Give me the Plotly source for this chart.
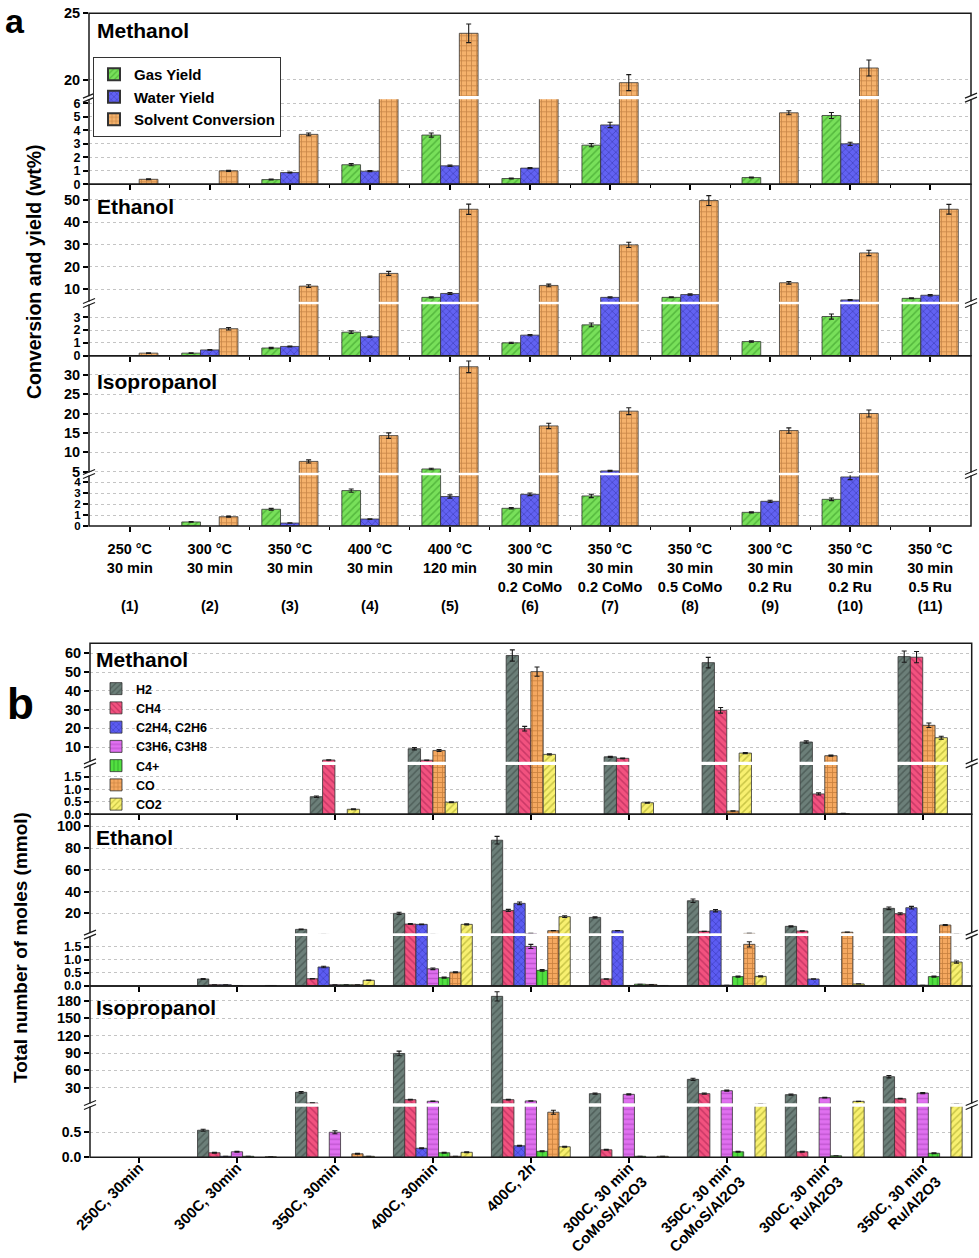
import plotly.graph_objects as go

W, H = 979, 1258
FONT = "Liberation Sans"

# ---------------- Panel a: categories ----------------
a_labels = ["250 °C<br>30 min<br> <br>(1)", "300 °C<br>30 min<br> <br>(2)",
            "350 °C<br>30 min<br> <br>(3)", "400 °C<br>30 min<br> <br>(4)",
            "400 °C<br>120 min<br> <br>(5)", "300 °C<br>30 min<br>0.2 CoMo<br>(6)",
            "350 °C<br>30 min<br>0.2 CoMo<br>(7)", "350 °C<br>30 min<br>0.5 CoMo<br>(8)",
            "300 °C<br>30 min<br>0.2 Ru<br>(9)", "350 °C<br>30 min<br>0.2 Ru<br>(10)",
            "350 °C<br>30 min<br>0.5 Ru<br>(11)"]
a_series = ["Gas Yield", "Water Yield", "Solvent Conversion"]

# Methanol (wt%)
a_meoh_gas = [None, None, 0.35, 1.45, 3.65, 0.43, 2.9, None, 0.5, 5.1, None]
a_meoh_water = [None, None, 0.87, 0.97, 1.37, 1.2, 4.4, None, None, 3.0, None]
a_meoh_solv = [0.37, 1.0, 3.7, 12.0, 23.5, 10.0, 19.8, None, 5.3, 20.9, None]
a_meoh_gas_err = [0, 0, 0.03, 0.08, 0.15, 0.03, 0.12, 0, 0.03, 0.22, 0]
a_meoh_water_err = [0, 0, 0.03, 0.04, 0.05, 0.04, 0.2, 0, 0, 0.12, 0]
a_meoh_solv_err = [0.03, 0.04, 0.1, 0, 0.7, 0, 0.6, 0, 0.15, 0.6, 0]

# Ethanol (wt%)
a_etoh_gas = [None, 0.2, 0.6, 1.83, 6.25, 1.0, 2.4, 6.25, 1.1, 3.05, 5.8]
a_etoh_water = [None, 0.45, 0.72, 1.47, 8.0, 1.6, 6.25, 7.5, None, 5.1, 7.2]
a_etoh_solv = [0.2, 2.1, 11.3, 17.0, 45.8, 11.6, 29.8, 49.7, 12.8, 26.2, 45.8]
a_etoh_gas_err = [0, 0.02, 0.05, 0.1, 0.3, 0.05, 0.15, 0.2, 0.05, 0.2, 0.2]
a_etoh_water_err = [0, 0.03, 0.03, 0.05, 0.4, 0.05, 0.3, 0.3, 0, 0.2, 0.3]
a_etoh_solv_err = [0.02, 0.1, 0.6, 0.9, 2.3, 0.6, 1.2, 2.2, 0.6, 1.2, 2.2]

# Isopropanol (wt%)
a_ipa_gas = [None, 0.37, 1.53, 3.24, 5.7, 1.62, 2.75, None, 1.25, 2.44, None]
a_ipa_water = [None, None, 0.27, 0.64, 2.7, 2.9, 5.2, None, 2.26, 4.49, None]
a_ipa_solv = [None, 0.85, 7.65, 14.3, 32.05, 16.8, 20.6, None, 15.6, 20.0, None]
a_ipa_gas_err = [0, 0.03, 0.08, 0.15, 0.2, 0.06, 0.15, 0, 0.05, 0.12, 0]
a_ipa_water_err = [0, 0, 0.02, 0.03, 0.15, 0.12, 0.15, 0, 0.1, 0.25, 0]
a_ipa_solv_err = [0, 0.05, 0.4, 0.7, 1.5, 0.7, 0.9, 0, 0.7, 0.9, 0]

# ---------------- Panel b: categories ----------------
b_labels = ["250C, 30min", "300C, 30min", "350C, 30min", "400C, 30min", "400C, 2h",
            "300C, 30 min<br>CoMoS/Al2O3", "350C, 30 min<br>CoMoS/Al2O3",
            "300C, 30 min<br>Ru/Al2O3", "350C, 30 min<br>Ru/Al2O3"]
b_series = ["H2", "CH4", "C2H4, C2H6", "C3H6, C3H8", "C4+", "CO", "CO2"]
b_meoh_series = ["H2", "CH4", "CO", "CO2"]

# Methanol (mmol)
b_meoh_h2 = [None, None, 0.70, 9.1, 58.8, 4.8, 55.0, 12.7, 58.2]
b_meoh_ch4 = [None, None, 3.1, 3.0, 19.8, 4.0, 29.6, 0.81, 57.9]
b_meoh_co = [None, None, None, 8.2, 50.2, None, 0.13, 5.4, 21.6]
b_meoh_co2 = [None, None, 0.2, 0.48, 6.1, 0.46, 6.8, 0.03, 15.0]
b_meoh_h2_err = [0, 0, 0.03, 0.6, 3.0, 0.3, 2.8, 0.6, 3.0]
b_meoh_ch4_err = [0, 0, 0.1, 0.1, 1.2, 0.2, 1.5, 0.04, 3.0]
b_meoh_co_err = [0, 0, 0, 0.5, 2.5, 0, 0.01, 0.3, 1.2]
b_meoh_co2_err = [0, 0, 0.02, 0.02, 0.3, 0.02, 0.3, 0.01, 0.8]

# Ethanol (mmol)
b_etoh_h2 = [None, 0.27, 5.3, 20.0, 87.2, 16.3, 31.6, 8.1, 24.6]
b_etoh_ch4 = [None, 0.05, 0.28, 10.2, 22.7, 0.27, 3.5, 3.8, 19.7]
b_etoh_c2 = [None, 0.05, 0.73, 9.9, 29.2, 4.1, 22.4, 0.27, 25.2]
b_etoh_c3 = [None, 0.02, 0.05, 0.66, 1.52, 0.02, 0.03, 0.02, 0.03]
b_etoh_c4 = [None, None, 0.05, 0.32, 0.6, 0.07, 0.36, 0.01, 0.36]
b_etoh_co = [None, None, 0.05, 0.53, 4.1, 0.06, 1.6, 2.7, 9.3]
b_etoh_co2 = [None, 0.02, 0.22, 9.9, 17.0, 0.02, 0.37, 0.08, 0.92]
b_etoh_h2_err = [0, 0.02, 0.4, 1.0, 3.5, 0.6, 1.6, 0.5, 1.2]
b_etoh_ch4_err = [0, 0, 0.01, 0.4, 1.0, 0.01, 0.1, 0.2, 0.9]
b_etoh_c2_err = [0, 0, 0.03, 0.4, 1.2, 0.1, 1.0, 0.01, 1.2]
b_etoh_c3_err = [0, 0, 0, 0.03, 0.08, 0, 0, 0, 0]
b_etoh_c4_err = [0, 0, 0, 0.02, 0.03, 0, 0.02, 0, 0.02]
b_etoh_co_err = [0, 0, 0, 0.02, 0.1, 0, 0.1, 0.1, 0.4]
b_etoh_co2_err = [0, 0, 0.01, 0.5, 0.8, 0, 0.02, 0, 0.04]

# Isopropanol (mmol)
b_ipa_h2 = [None, 0.54, 22.0, 89.2, 188.0, 19.7, 44.4, 18.0, 49.0]
b_ipa_ch4 = [None, 0.09, 3.5, 9.3, 9.3, 0.15, 19.7, 0.11, 11.0]
b_ipa_c2 = [None, 0.02, None, 0.18, 0.23, None, None, None, None]
b_ipa_c3 = [None, 0.11, 0.5, 6.5, 7.1, 18.5, 24.8, 12.8, 20.8]
b_ipa_c4 = [None, 0.02, None, 0.09, 0.12, 0.02, 0.11, 0.03, 0.08]
b_ipa_co = [None, None, 0.07, 0.02, 0.9, None, None, None, None]
b_ipa_co2 = [None, 0.01, 0.02, 0.1, 0.21, 0.02, 2.0, 6.4, 2.0]
b_ipa_h2_err = [0, 0.02, 1.5, 4.0, 8.0, 1.0, 2.0, 1.0, 2.0]
b_ipa_ch4_err = [0, 0.01, 0.3, 0.5, 0.5, 0.01, 1.0, 0.01, 0.6]
b_ipa_c2_err = [0, 0, 0, 0.01, 0.01, 0, 0, 0, 0]
b_ipa_c3_err = [0, 0.01, 0.03, 0.4, 0.4, 1.0, 1.0, 0.6, 1.0]
b_ipa_c4_err = [0, 0, 0, 0.01, 0.01, 0, 0.01, 0, 0.01]
b_ipa_co_err = [0, 0, 0.01, 0, 0.04, 0, 0, 0, 0]
b_ipa_co2_err = [0, 0, 0, 0.01, 0.01, 0, 0, 0, 0]

# ---------------- styles ----------------
STYLE = {
    "Gas Yield": ("#78e05a", "#2f8f20", "/"),
    "Water Yield": ("#6262f2", "#2a2a9a", "x"),
    "Solvent Conversion": ("#f5b26c", "#9a5a22", "+"),
    "H2": ("#6c7f79", "#33403c", "/"),
    "CH4": ("#f2527f", "#a01e4e", "\\"),
    "C2H4, C2H6": ("#5c5cf2", "#2a2aa0", "x"),
    "C3H6, C3H8": ("#e070f0", "#a03cb0", "-"),
    "C4+": ("#52e040", "#1f8f1f", "|"),
    "CO": ("#f5a860", "#9a5a1e", "+"),
    "CO2": ("#f8f070", "#9a9a1e", "/"),
}


def py(p):
    return 1 - p / H


def px(p):
    return p / W


def ax_ref(letter, i):
    return letter if i == 1 else f"{letter}{i}"


def ax_key(letter, i):
    return f"{letter}axis" if i == 1 else f"{letter}axis{i}"


# panel geometry: (x left px, x right px, upper top, upper bottom, lower top, lower bottom,
#                  upper range, lower range, upper ticks, lower ticks, lower fmt, lower font size)
PANELS = [
    (89, 971, 13.3, 96.0, 99.3, 184.3, [18.8, 25.0], [0, 6.3], [20, 25], [0, 1, 2, 3, 4, 5, 6], "", 12.5),
    (89, 971, 184.3, 301.7, 304.3, 355.7, [4.3, 57.0], [0, 4.0], [10, 20, 30, 40, 50], [0, 1, 2, 3], "", 12.5),
    (89, 971, 355.7, 472.7, 475.3, 526.0, [4.74, 34.9], [0, 4.64], [5, 10, 15, 20, 25, 30], [0, 1, 2, 3, 4], "", 11.5),
    (90, 971.7, 643.3, 761.7, 765.0, 814.3, [2.2, 65.3], [0, 1.96], [10, 20, 30, 40, 50, 60], [0, 0.5, 1.0, 1.5], ".1f", 12.5),
    (90, 971.7, 814.3, 933.3, 936.0, 986.0, [1.7, 111], [0, 1.92], [20, 40, 60, 80, 100], [0, 0.5, 1.0, 1.5], ".1f", 12.5),
    (90, 971.7, 986.0, 1103.3, 1106.7, 1157.3, [3.0, 205.9], [0, 1.01], [30, 60, 90, 120, 150, 180], [0, 0.5], ".1f", 14),
]

fig = go.Figure()


def add_panel(k, names, values, errors, ncat, width, legend_id, show_legend):
    nser = len(names)
    for i, (nm, v, e) in enumerate(zip(names, values, errors)):
        off = -nser * width / 2 + i * width
        fill, fg, shp = STYLE[nm]
        for seg, yi in ((0, 2 * k + 1), (1, 2 * k + 2)):
            fig.add_trace(go.Bar(
                x=list(range(ncat)), y=v, width=width, offset=off,
                xaxis=ax_ref("x", k + 1), yaxis=ax_ref("y", yi),
                name=nm, legend=legend_id,
                showlegend=bool(show_legend and seg == 0),
                marker=dict(color=fill, line=dict(color="#333333", width=0.8),
                            pattern=dict(shape=shp, fgcolor=fg, size=5, solidity=0.3)),
                error_y=dict(type="data", array=e, visible=True, color="#1a1a1a",
                             thickness=1.1, width=2.5),
            ))


WA = 0.234
add_panel(0, a_series, [a_meoh_gas, a_meoh_water, a_meoh_solv],
          [a_meoh_gas_err, a_meoh_water_err, a_meoh_solv_err], 11, WA, "legend", True)
add_panel(1, a_series, [a_etoh_gas, a_etoh_water, a_etoh_solv],
          [a_etoh_gas_err, a_etoh_water_err, a_etoh_solv_err], 11, WA, "legend", False)
add_panel(2, a_series, [a_ipa_gas, a_ipa_water, a_ipa_solv],
          [a_ipa_gas_err, a_ipa_water_err, a_ipa_solv_err], 11, WA, "legend", False)
add_panel(3, b_meoh_series, [b_meoh_h2, b_meoh_ch4, b_meoh_co, b_meoh_co2],
          [b_meoh_h2_err, b_meoh_ch4_err, b_meoh_co_err, b_meoh_co2_err], 9, 0.126, "legend2", False)
add_panel(4, b_series, [b_etoh_h2, b_etoh_ch4, b_etoh_c2, b_etoh_c3, b_etoh_c4, b_etoh_co, b_etoh_co2],
          [b_etoh_h2_err, b_etoh_ch4_err, b_etoh_c2_err, b_etoh_c3_err, b_etoh_c4_err,
           b_etoh_co_err, b_etoh_co2_err], 9, 0.115, "legend2", True)
add_panel(5, b_series, [b_ipa_h2, b_ipa_ch4, b_ipa_c2, b_ipa_c3, b_ipa_c4, b_ipa_co, b_ipa_co2],
          [b_ipa_h2_err, b_ipa_ch4_err, b_ipa_c2_err, b_ipa_c3_err, b_ipa_c4_err,
           b_ipa_co_err, b_ipa_co2_err], 9, 0.115, "legend2", False)


def tfont(size):
    return dict(family=FONT, size=size, color="black", weight="bold")


layout = {}
shapes = []
for k, (xl, xr, ut, ub, lt, lb, urng, lrng, utk, ltk, fmt, lfs) in enumerate(PANELS):
    is_a = k < 3
    ncat = 11 if is_a else 9
    bottom = k in (2, 5)
    xax = dict(
        domain=[px(xl), px(xr)], anchor=ax_ref("y", 2 * k + 1), automargin=False,
        range=[-0.51, 10.51] if is_a else [-0.5, 8.5],
        tickmode="array", tickvals=list(range(ncat)),
        ticktext=(a_labels if is_a else b_labels) if bottom else [""] * ncat,
        showticklabels=bottom, ticks="outside", ticklen=5, tickwidth=1.5, tickcolor="black",
        showgrid=False, zeroline=False, showline=False,
    )
    if is_a:
        xax["minor"] = dict(tickmode="array", tickvals=[i + 0.5 for i in range(10)],
                            ticks="outside", ticklen=3, tickwidth=1.2, tickcolor="black", showgrid=False)
        xax["tickfont"] = tfont(14.5)
        xax["ticklabelstandoff"] = 5
    else:
        xax["tickangle"] = -45
        xax["tickfont"] = tfont(15)
        xax["ticklabelstandoff"] = -10
    layout[ax_key("x", k + 1)] = xax
    common = dict(anchor=ax_ref("x", k + 1), ticks="outside", ticklen=5, tickwidth=1.5,
                  tickcolor="black", showgrid=True, gridcolor="#c4c4c4", griddash="dot",
                  gridwidth=1, zeroline=False, showline=False, automargin=False,
                  tickmode="array")
    layout[ax_key("y", 2 * k + 1)] = dict(common, domain=[py(lb), py(lt)], range=lrng, tickvals=ltk,
                                          tickformat=fmt, tickfont=tfont(lfs))
    layout[ax_key("y", 2 * k + 2)] = dict(common, domain=[py(ub), py(ut)], range=urng, tickvals=utk,
                                          tickfont=tfont(14.5))

    # frame
    shapes.append(dict(type="rect", xref="paper", yref="paper", x0=px(xl), x1=px(xr),
                       y0=py(lb), y1=py(ut), line=dict(color="#1a1a1a", width=1.5), layer="above"))
    # axis break marks
    g = (ub + lt) / 2
    for xx in (xl, xr):
        shapes.append(dict(type="rect", xref="paper", yref="paper", x0=px(xx - 2), x1=px(xx + 2),
                           y0=py(g + 1.5), y1=py(g - 1.5), line=dict(width=0), fillcolor="white",
                           layer="above"))
        for dy in (-2, 2):
            shapes.append(dict(type="line", xref="paper", yref="paper",
                               x0=px(xx - 6), y0=py(g + dy + 2.5), x1=px(xx + 6), y1=py(g + dy - 2.5),
                               line=dict(color="#1a1a1a", width=1.2), layer="above"))

annotations = []


def label(text, x, y, size, xanchor="left", angle=0, yanchor="middle"):
    annotations.append(dict(text=text, x=px(x), y=py(y), xref="paper", yref="paper",
                            showarrow=False, xanchor=xanchor, yanchor=yanchor, textangle=angle,
                            font=tfont(size)))


label("a", 15, 0, 34, "center", 0, "top")
label("b", 20, 703, 44, "center")
label("Methanol", 95, 31, 21)
label("Ethanol", 95, 206, 21)
label("Isopropanol", 95, 382, 21)
label("Methanol", 94, 659, 21)
label("Ethanol", 94, 837, 21)
label("Isopropanol", 94, 1007, 21)
label("Conversion and yield (wt%)", 34, 272, 19.5, "center", -90)
label("Total number of moles (mmol)", 20, 948, 19, "center", -90)

fig.update_layout(
    width=W, height=H, autosize=False,
    margin=dict(l=0, r=0, t=0, b=0, autoexpand=False),
    paper_bgcolor="white", plot_bgcolor="white",
    barmode="overlay",
    shapes=shapes, annotations=annotations,
    legend=dict(x=px(93), y=py(57), xanchor="left", yanchor="top", bgcolor="white",
                bordercolor="#333333", borderwidth=1, traceorder="normal", tracegroupgap=0,
                font=tfont(15), itemsizing="constant"),
    legend2=dict(x=px(96), y=py(674), xanchor="left", yanchor="top", bgcolor="rgba(255,255,255,0)",
                 borderwidth=0, traceorder="normal", tracegroupgap=0,
                 font=tfont(12.5)),
    **layout,
)

fig.write_html("out.html",
               config={"displayModeBar": False},
               post_script="document.body.style.margin='0px';"
                           "document.documentElement.style.overflow='hidden';")
